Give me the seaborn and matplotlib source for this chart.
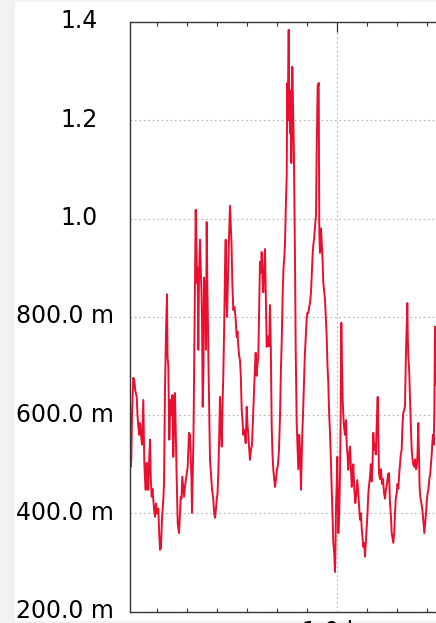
import matplotlib
matplotlib.use("Agg")
import matplotlib.pyplot as plt
import matplotlib.transforms as mtransforms
from matplotlib.patches import Rectangle
from matplotlib.ticker import FixedLocator, FuncFormatter
import seaborn as sns
import pandas as pd

# sample time (arbitrary units: 300 units = 1.0 on the axis label, 1.0 sits at 337)
time = [
    130.0, 130.7, 131.3, 132.0, 133.3, 134.3, 135.3, 136.7, 137.5, 138.3, 139.2, 140.0, 141.0, 142.0,
    143.3, 144.3, 145.0, 145.7, 146.7, 147.5, 148.3, 149.0, 150.0, 150.8, 151.7, 152.5, 153.3, 154.0,
    155.0, 156.0, 157.0, 158.3, 159.2, 160.0, 161.0, 162.0, 163.3, 164.0, 165.0, 166.0, 167.0, 167.5,
    168.3, 169.3, 170.0, 170.7, 171.5, 172.5, 173.3, 174.2, 175.0, 175.8, 176.7, 177.7, 179.0, 180.0,
    180.7, 181.5, 182.3, 183.3, 184.0, 185.0, 186.0, 187.7, 189.0, 190.0, 190.7, 191.5, 192.0, 192.7,
    193.5, 194.3, 195.0, 195.7, 196.5, 197.0, 197.7, 198.3, 199.0, 200.0, 200.7, 201.5, 202.0, 202.7,
    203.5, 204.0, 205.0, 206.0, 206.7, 207.3, 208.0, 208.5, 209.3, 210.0, 211.0, 212.0, 213.3, 214.2,
    215.0, 216.0, 216.7, 217.5, 218.3, 219.0, 220.0, 220.8, 221.7, 222.5, 223.3, 224.3, 225.0, 225.7,
    226.3, 227.0, 228.0, 229.0, 230.0, 230.7, 231.5, 232.3, 233.3, 234.5, 235.5, 236.7, 237.5, 238.3,
    239.2, 240.0, 240.8, 241.7, 242.5, 243.3, 244.3, 245.0, 245.7, 246.7, 247.5, 248.3, 249.2, 250.0,
    251.0, 252.0, 252.7, 253.5, 254.3, 255.0, 255.7, 256.5, 257.3, 258.3, 259.2, 260.0, 261.0, 261.7,
    262.5, 263.3, 264.2, 265.0, 265.7, 266.7, 268.0, 269.2, 270.0, 270.8, 271.7, 272.5, 273.3, 274.2,
    275.0, 276.0, 277.0, 278.0, 279.0, 280.0, 281.0, 281.7, 282.7, 283.5, 284.3, 285.0, 286.0, 286.7,
    287.3, 287.8, 288.2, 288.7, 289.2, 289.7, 290.0, 290.5, 291.0, 291.3, 291.8, 292.3, 292.8, 293.3,
    293.8, 294.3, 295.0, 295.7, 296.7, 297.5, 298.3, 299.2, 300.0, 301.0, 302.3, 303.0, 304.0, 304.8,
    305.7, 306.5, 307.3, 308.3, 309.2, 310.0, 311.0, 312.0, 312.7, 313.5, 314.2, 315.0, 316.0, 316.7,
    317.2, 317.7, 318.2, 318.7, 319.0, 319.3, 320.0, 320.5, 321.0, 321.7, 322.5, 323.3, 324.2, 325.0,
    325.8, 326.7, 327.5, 328.3, 329.2, 330.0, 331.0, 331.7, 332.5, 333.3, 334.2, 335.0, 335.5, 336.0,
    336.7, 337.3, 338.3, 339.2, 340.0, 340.7, 341.3, 342.0, 342.7, 343.3, 344.0, 345.0, 346.0, 346.7,
    347.5, 348.3, 349.2, 350.0, 350.8, 351.7, 352.5, 353.3, 354.3, 355.3, 356.3, 357.3, 358.3, 359.2,
    360.0, 361.0, 361.7, 362.5, 363.3, 364.2, 365.0, 365.8, 366.7, 367.5, 368.3, 369.2, 370.0, 370.8,
    371.7, 372.5, 373.3, 374.2, 375.0, 375.8, 376.7, 377.7, 378.3, 379.0, 380.0, 381.0, 382.0, 383.0,
    384.0, 385.0, 386.0, 387.0, 388.0, 389.0, 390.0, 390.8, 391.7, 392.5, 393.3, 394.2, 395.0, 395.8,
    396.7, 397.5, 398.3, 399.2, 400.0, 400.8, 401.7, 402.5, 403.3, 404.2, 405.0, 405.5, 406.0, 406.7,
    407.3, 407.8, 408.3, 409.2, 410.0, 410.8, 411.7, 412.5, 413.3, 414.2, 415.0, 416.0, 416.7, 417.5,
    418.3, 419.0, 419.5, 420.0, 420.7, 421.5, 422.7, 423.5, 424.3, 425.2, 426.0, 427.0, 427.7, 428.5,
    429.3, 430.2, 431.0, 431.7, 432.3, 433.0, 433.7, 434.3, 435.0, 435.7, 436.5, 437.5,
]

# signal value in milli-units (shown as "200.0 m" ... "1.4")
value_milli = [
    523, 495, 509, 600, 676, 670, 650, 637, 600, 577, 560, 584, 560, 540,
    631, 503, 470, 448, 503, 460, 448, 500, 550, 470, 434, 450, 427, 410,
    393, 420, 400, 410, 360, 326, 330, 390, 428, 460, 652, 767, 846, 720,
    700, 550, 600, 631, 600, 641, 515, 600, 645, 560, 470, 381, 360, 400,
    434, 430, 475, 450, 434, 455, 470, 495, 564, 560, 520, 470, 401, 480,
    560, 733, 880, 1018, 950, 869, 900, 733, 880, 957, 900, 850, 800, 617,
    700, 880, 860, 733, 993, 870, 780, 700, 600, 509, 480, 450, 428, 400,
    391, 410, 428, 440, 480, 540, 637, 580, 536, 620, 680, 794, 900, 957,
    850, 800, 880, 960, 1026, 990, 950, 870, 814, 820, 800, 759, 770, 740,
    720, 712, 680, 611, 590, 560, 570, 560, 543, 617, 580, 560, 530, 509,
    530, 540, 580, 620, 665, 700, 727, 680, 700, 719, 820, 912, 890, 932,
    880, 850, 900, 938, 860, 739, 760, 740, 824, 740, 577, 520, 489, 470,
    454, 470, 490, 500, 530, 597, 700, 747, 849, 900, 920, 950, 1040, 1085,
    1276, 1200, 1300, 1384, 1250, 1200, 1174, 1260, 1230, 1113, 1200, 1309, 1250, 1200,
    1150, 1050, 916, 733, 584, 540, 490, 560, 530, 448, 564, 600, 665, 720,
    759, 790, 808, 808, 820, 828, 850, 900, 930, 950, 960, 983, 1007, 1140,
    1200, 1272, 1270, 1276, 1100, 970, 930, 950, 980, 950, 920, 869, 850, 835,
    800, 759, 700, 665, 600, 564, 500, 448, 400, 340, 320, 281, 330, 414,
    460, 515, 360, 400, 480, 600, 788, 700, 631, 600, 577, 560, 590, 540,
    520, 489, 520, 536, 500, 454, 470, 500, 450, 421, 440, 468, 440, 410,
    387, 400, 370, 350, 332, 340, 312, 340, 373, 400, 440, 460, 475, 500,
    465, 500, 564, 530, 540, 520, 580, 637, 560, 482, 470, 490, 460, 470,
    442, 430, 450, 460, 480, 482, 420, 400, 360, 350, 340, 360, 400, 430,
    442, 460, 450, 480, 500, 520, 530, 580, 605, 610, 620, 680, 733, 780,
    828, 760, 720, 690, 631, 580, 530, 510, 500, 495, 510, 490, 495, 520,
    584, 520, 460, 440, 428, 420, 401, 380, 360, 380, 400, 430, 442, 450,
    470, 480, 500, 520, 543, 560, 540, 600, 780, 700, 660, 690,
]

y_ticks = [200, 400, 600, 800, 1000, 1200, 1400]
x_major = [337, 637]

df = pd.DataFrame({"time": time, "value": value_milli})

sns.set_style("white")
plt.rcParams["font.family"] = ["DejaVu Sans"]

W, H = 436, 623
fig = plt.figure(figsize=(W / 100, H / 100), dpi=100)
fig.patch.set_facecolor("#f2f2f2")
fig.patches.append(Rectangle((15 / W, 2 / H), 1, 619 / H, transform=fig.transFigure,
                             facecolor="white", edgecolor="none", zorder=-10))

left, right_px, top, bottom = 130, 640, 22, 611.7
ax = fig.add_axes([left / W, (H - bottom) / H, (right_px - left) / W, (bottom - top) / H])
ax.set_facecolor("white")

sns.lineplot(data=df, x="time", y="value", ax=ax, estimator=None, sort=False,
             color="#ea0f2f", linewidth=1.4)

ax.set_xlim(130, 640)
ax.set_ylim(200, 1400)
ax.set_xlabel("")
ax.set_ylabel("")

ax.yaxis.set_major_locator(FixedLocator(y_ticks))


def yfmt(v, pos):
    if v >= 1000:
        return f"{v / 1000:.1f}"
    return f"{v:.1f} m"


ax.yaxis.set_major_formatter(FuncFormatter(yfmt))
ax.xaxis.set_major_locator(FixedLocator(x_major))
ax.xaxis.set_minor_locator(FixedLocator([157 + 30 * i for i in range(17)]))
ax.xaxis.set_major_formatter(FuncFormatter(lambda v, p: f"{(v - 37) / 300:.1f} ks"))

ax.tick_params(axis="y", which="major", direction="in", length=5, width=0.9,
               colors="#333333", labelcolor="black", labelsize=17, pad=11.5, right=False)
ax.tick_params(axis="x", which="major", direction="in", length=7, width=0.9,
               colors="#333333", labelcolor="black", labelsize=17, pad=6, top=True)
ax.tick_params(axis="x", which="minor", direction="in", length=3, width=0.8,
               colors="#333333", top=True, bottom=True)

for s in ax.spines.values():
    s.set_color("#333333")
    s.set_linewidth(1.0)

ax.grid(True, which="major", axis="both", color="#b5b5b5", linestyle=(0, (1.5, 2.5)), linewidth=0.8)
ax.set_axisbelow(True)

# labels without SI prefix sit further left in the reference
shift = mtransforms.ScaledTranslation(-16 / 100, 3 / 100, fig.dpi_scale_trans)
base_shift = mtransforms.ScaledTranslation(0, 3 / 100, fig.dpi_scale_trans)
for tick, v in zip(ax.yaxis.get_major_ticks(), y_ticks):
    lab = tick.label1
    lab.set_transform(lab.get_transform() + (shift if v >= 1000 else base_shift))

fig.savefig("out.png", dpi=100)
